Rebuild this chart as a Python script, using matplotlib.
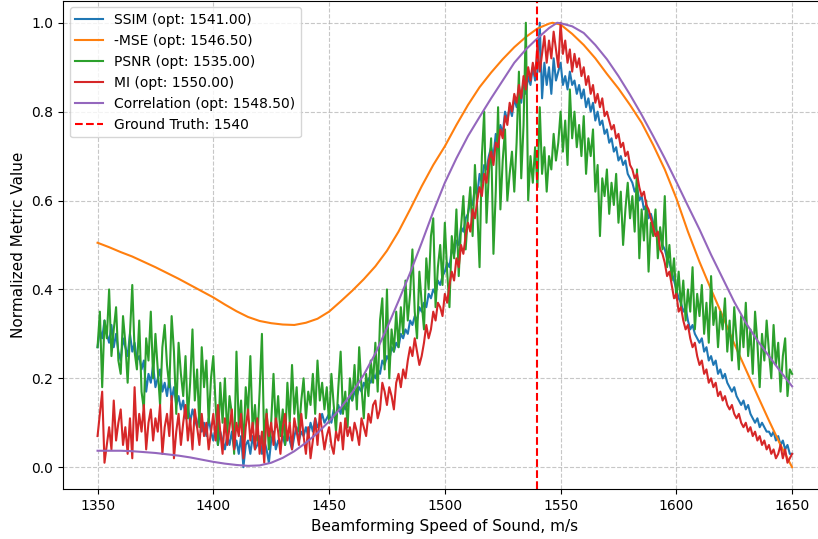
""" speed of sound sweep: normalized metric curves """

# imports
import numpy as np
import matplotlib
matplotlib.use('Agg')
import matplotlib.pyplot as plt


# swept speed of sound for the image metrics, m/s
sos = np.arange(1350, 1651, 1)

# SSIM per speed of sound (normalized)
ssim = [
    0.27, 0.31, 0.29, 0.33, 0.30, 0.28, 0.32, 0.27, 0.30, 0.26,
    0.24, 0.29, 0.27, 0.25, 0.30, 0.26, 0.28, 0.24, 0.25, 0.22,
    0.24, 0.17, 0.21, 0.19, 0.23, 0.18, 0.20, 0.22, 0.17, 0.19,
    0.16, 0.20, 0.15, 0.18, 0.14, 0.16, 0.13, 0.15, 0.11, 0.14,
    0.10, 0.13, 0.11, 0.09, 0.12, 0.08, 0.10, 0.07, 0.11, 0.08,
    0.06, 0.09, 0.05, 0.08, 0.06, 0.04, 0.07, 0.05, 0.08, 0.04,
    0.06, 0.03, 0.07, 0.00, 0.05, 0.06, 0.03, 0.07, 0.04, 0.05,
    0.07, 0.03, 0.06, 0.04, 0.01, 0.06, 0.08, 0.04, 0.06, 0.05,
    0.07, 0.05, 0.08, 0.06, 0.04, 0.07, 0.09, 0.06, 0.08, 0.07,
    0.09, 0.07, 0.10, 0.08, 0.11, 0.09, 0.10, 0.12, 0.10, 0.11,
    0.12, 0.10, 0.13, 0.11, 0.14, 0.12, 0.15, 0.13, 0.14, 0.16,
    0.15, 0.17, 0.16, 0.18, 0.17, 0.19, 0.18, 0.20, 0.19, 0.21,
    0.20, 0.22, 0.21, 0.24, 0.23, 0.25, 0.24, 0.27, 0.26, 0.28,
    0.27, 0.30, 0.29, 0.31, 0.30, 0.33, 0.32, 0.34, 0.33, 0.36,
    0.35, 0.37, 0.36, 0.39, 0.38, 0.40, 0.39, 0.42, 0.41, 0.43,
    0.44, 0.46, 0.45, 0.49, 0.48, 0.51, 0.50, 0.54, 0.53, 0.56,
    0.57, 0.60, 0.59, 0.63, 0.61, 0.66, 0.64, 0.68, 0.67, 0.70,
    0.72, 0.70, 0.75, 0.73, 0.77, 0.75, 0.80, 0.78, 0.81, 0.79,
    0.83, 0.81, 0.85, 0.82, 0.87, 0.84, 0.88, 0.86, 0.90, 0.87,
    0.89, 1.00, 0.83, 0.91, 0.86, 0.90, 0.84, 0.92, 0.87, 0.89,
    0.91, 0.86, 0.88, 0.85, 0.89, 0.86, 0.87, 0.84, 0.86, 0.83,
    0.85, 0.81, 0.83, 0.80, 0.82, 0.78, 0.80, 0.77, 0.78, 0.75,
    0.76, 0.73, 0.74, 0.71, 0.72, 0.69, 0.70, 0.68, 0.69, 0.66,
    0.65, 0.64, 0.62, 0.63, 0.60, 0.61, 0.58, 0.59, 0.56, 0.57,
    0.55, 0.54, 0.52, 0.53, 0.50, 0.49, 0.47, 0.46, 0.44, 0.42,
    0.40, 0.38, 0.37, 0.35, 0.36, 0.33, 0.31, 0.32, 0.30, 0.29,
    0.28, 0.29, 0.26, 0.27, 0.24, 0.25, 0.23, 0.24, 0.21, 0.22,
    0.20, 0.21, 0.19, 0.18, 0.17, 0.18, 0.16, 0.15, 0.14, 0.15,
    0.13, 0.14, 0.12, 0.11, 0.10, 0.11, 0.09, 0.10, 0.09, 0.08,
    0.08, 0.07, 0.08, 0.06, 0.07, 0.05, 0.06, 0.04, 0.05, 0.03,
    0.03,
]

# PSNR per speed of sound (normalized)
psnr = [
    0.27, 0.35, 0.18, 0.33, 0.29, 0.40, 0.25, 0.31, 0.36, 0.24,
    0.21, 0.34, 0.28, 0.19, 0.30, 0.41, 0.26, 0.22, 0.33, 0.17,
    0.13, 0.29, 0.24, 0.35, 0.20, 0.30, 0.22, 0.14, 0.27, 0.32,
    0.23, 0.18, 0.34, 0.26, 0.12, 0.28, 0.21, 0.16, 0.25, 0.11,
    0.19, 0.31, 0.15, 0.22, 0.09, 0.27, 0.18, 0.24, 0.10, 0.20,
    0.25, 0.14, 0.05, 0.19, 0.10, 0.20, 0.07, 0.16, 0.12, 0.03,
    0.26, 0.09, 0.15, 0.04, 0.18, 0.12, 0.25, 0.08, 0.14, 0.06,
    0.17, 0.30, 0.05, 0.13, 0.04, 0.10, 0.21, 0.09, 0.16, 0.07,
    0.13, 0.05, 0.19, 0.10, 0.23, 0.12, 0.18, 0.08, 0.15, 0.20,
    0.11, 0.17, 0.14, 0.21, 0.12, 0.24, 0.15, 0.19, 0.13, 0.18,
    0.10, 0.21, 0.14, 0.08, 0.18, 0.26, 0.12, 0.17, 0.09, 0.20,
    0.15, 0.23, 0.13, 0.27, 0.18, 0.11, 0.21, 0.16, 0.24, 0.19,
    0.28, 0.17, 0.33, 0.38, 0.22, 0.40, 0.20, 0.31, 0.26, 0.35,
    0.27, 0.36, 0.30, 0.42, 0.33, 0.39, 0.49, 0.35, 0.29, 0.44,
    0.37, 0.31, 0.47, 0.40, 0.52, 0.56, 0.36, 0.45, 0.50, 0.41,
    0.55, 0.44, 0.36, 0.52, 0.47, 0.58, 0.43, 0.54, 0.61, 0.49,
    0.57, 0.63, 0.52, 0.68, 0.58, 0.45, 0.70, 0.80, 0.55, 0.66,
    0.74, 0.48, 0.62, 0.81, 0.58, 0.69, 0.76, 0.60, 0.66, 0.71,
    0.62, 0.73, 0.89, 0.65, 0.77, 1.00, 0.60, 0.70, 0.64, 0.72,
    0.63, 0.81, 0.66, 0.72, 0.62, 0.70, 0.67, 0.75, 0.69, 0.73,
    0.80, 0.71, 0.78, 0.68, 0.85, 0.74, 0.80, 0.72, 0.77, 0.70,
    0.79, 0.66, 0.74, 0.70, 0.76, 0.62, 0.68, 0.52, 0.65, 0.61,
    0.67, 0.57, 0.64, 0.59, 0.66, 0.55, 0.62, 0.50, 0.58, 0.64,
    0.56, 0.61, 0.53, 0.67, 0.47, 0.58, 0.51, 0.60, 0.44, 0.55,
    0.52, 0.58, 0.47, 0.54, 0.49, 0.61, 0.45, 0.50, 0.42, 0.47,
    0.38, 0.44, 0.36, 0.42, 0.33, 0.40, 0.35, 0.45, 0.31, 0.39,
    0.34, 0.41, 0.30, 0.37, 0.28, 0.43, 0.32, 0.36, 0.27, 0.35,
    0.31, 0.38, 0.26, 0.33, 0.24, 0.36, 0.29, 0.22, 0.34, 0.27,
    0.37, 0.25, 0.31, 0.21, 0.35, 0.28, 0.18, 0.30, 0.24, 0.33,
    0.26, 0.20, 0.32, 0.23, 0.28, 0.17, 0.25, 0.29, 0.16, 0.22,
    0.21,
]

# mutual information per speed of sound (normalized)
mi = [
    0.07, 0.12, 0.17, 0.01, 0.05, 0.09, 0.04, 0.15, 0.06, 0.10,
    0.13, 0.05, 0.09, 0.03, 0.11, 0.02, 0.18, 0.06, 0.12, 0.08,
    0.14, 0.04, 0.10, 0.13, 0.06, 0.11, 0.08, 0.14, 0.03, 0.09,
    0.12, 0.07, 0.16, 0.02, 0.08, 0.12, 0.05, 0.10, 0.14, 0.06,
    0.11, 0.04, 0.13, 0.09, 0.05, 0.12, 0.07, 0.10, 0.04, 0.08,
    0.12, 0.06, 0.14, 0.08, 0.03, 0.11, 0.05, 0.09, 0.13, 0.04,
    0.10, 0.07, 0.12, 0.02, 0.09, 0.13, 0.06, 0.10, 0.04, 0.11,
    0.03, 0.08, 0.01, 0.12, 0.07, 0.10, 0.05, 0.11, 0.08, 0.03,
    0.09, 0.12, 0.06, 0.10, 0.04, 0.11, 0.08, 0.05, 0.12, 0.07,
    0.03, 0.09, 0.02, 0.06, 0.11, 0.05, 0.12, 0.08, 0.04, 0.07,
    0.09, 0.05, 0.03, 0.08, 0.06, 0.10, 0.04, 0.11, 0.07, 0.09,
    0.06, 0.10, 0.08, 0.05, 0.11, 0.09, 0.07, 0.12, 0.10, 0.14,
    0.15, 0.11, 0.13, 0.19, 0.17, 0.14, 0.18, 0.16, 0.13, 0.19,
    0.21, 0.18, 0.22, 0.20, 0.24, 0.27, 0.25, 0.29, 0.26, 0.23,
    0.25, 0.28, 0.32, 0.29, 0.31, 0.35, 0.33, 0.37, 0.36, 0.34,
    0.39, 0.37, 0.41, 0.44, 0.42, 0.47, 0.45, 0.50, 0.48, 0.52,
    0.55, 0.53, 0.58, 0.56, 0.60, 0.63, 0.61, 0.66, 0.64, 0.69,
    0.71, 0.68, 0.73, 0.72, 0.76, 0.74, 0.79, 0.77, 0.82, 0.80,
    0.84, 0.82, 0.86, 0.83, 0.88, 0.85, 0.90, 0.87, 0.91, 0.88,
    0.95, 0.89, 0.93, 0.97, 0.91, 0.96, 0.92, 0.98, 0.94, 0.90,
    1.00, 0.93, 0.96, 0.91, 0.94, 0.89, 0.93, 0.90, 0.92, 0.88,
    0.90, 0.86, 0.88, 0.84, 0.86, 0.82, 0.84, 0.81, 0.83, 0.79,
    0.80, 0.78, 0.76, 0.77, 0.74, 0.75, 0.72, 0.73, 0.70, 0.71,
    0.68, 0.67, 0.65, 0.66, 0.63, 0.61, 0.62, 0.59, 0.58, 0.56,
    0.54, 0.52, 0.53, 0.49, 0.48, 0.46, 0.43, 0.44, 0.41, 0.38,
    0.39, 0.35, 0.36, 0.33, 0.31, 0.32, 0.29, 0.27, 0.28, 0.25,
    0.23, 0.24, 0.21, 0.22, 0.19, 0.20, 0.18, 0.19, 0.16, 0.17,
    0.15, 0.16, 0.14, 0.13, 0.14, 0.12, 0.11, 0.12, 0.10, 0.09,
    0.10, 0.08, 0.09, 0.07, 0.08, 0.06, 0.07, 0.05, 0.06, 0.04,
    0.05, 0.03, 0.04, 0.02, 0.03, 0.05, 0.02, 0.04, 0.01, 0.02,
    0.03,
]

# -MSE, sampled coarser since it is smooth
mse_sos = [
    1350, 1355, 1360, 1365, 1370, 1375, 1380, 1385, 1390, 1395,
    1400, 1405, 1410, 1415, 1420, 1425, 1430, 1435, 1440, 1445,
    1450, 1455, 1460, 1465, 1470, 1475, 1480, 1485, 1490, 1495,
    1500, 1505, 1510, 1515, 1520, 1525, 1530, 1535, 1540, 1545,
    1546.5, 1550, 1555, 1560, 1565, 1570, 1575, 1580, 1585, 1590,
    1595, 1600, 1605, 1610, 1615, 1620, 1625, 1630, 1635, 1640,
    1645, 1650,
]
mse = [
    0.505, 0.495, 0.484, 0.474, 0.462, 0.450, 0.437, 0.424, 0.410, 0.396,
    0.382, 0.366, 0.351, 0.338, 0.329, 0.324, 0.321, 0.320, 0.325, 0.334,
    0.350, 0.373, 0.397, 0.423, 0.452, 0.487, 0.530, 0.580, 0.632, 0.680,
    0.722, 0.770, 0.815, 0.855, 0.888, 0.918, 0.945, 0.968, 0.987, 0.998,
    1.000, 0.996, 0.975, 0.950, 0.920, 0.885, 0.852, 0.815, 0.775, 0.725,
    0.670, 0.605, 0.530, 0.462, 0.400, 0.340, 0.278, 0.220, 0.162, 0.105,
    0.050, 0.000,
]

# correlation, also smooth
corr_sos = [
    1350, 1355, 1360, 1365, 1370, 1375, 1380, 1385, 1390, 1395,
    1400, 1405, 1410, 1415, 1420, 1425, 1430, 1435, 1440, 1445,
    1450, 1455, 1460, 1465, 1470, 1475, 1480, 1485, 1490, 1495,
    1500, 1505, 1510, 1515, 1520, 1525, 1530, 1535, 1540, 1545,
    1548.5, 1550, 1555, 1560, 1565, 1570, 1575, 1580, 1585, 1590,
    1595, 1600, 1605, 1610, 1615, 1620, 1625, 1630, 1635, 1640,
    1645, 1650,
]
corr = [
    0.037, 0.037, 0.037, 0.036, 0.034, 0.032, 0.029, 0.026, 0.022, 0.017,
    0.012, 0.008, 0.005, 0.003, 0.004, 0.010, 0.021, 0.036, 0.055, 0.077,
    0.103, 0.133, 0.168, 0.208, 0.256, 0.313, 0.374, 0.437, 0.505, 0.575,
    0.640, 0.695, 0.745, 0.788, 0.830, 0.870, 0.910, 0.940, 0.965, 0.988,
    1.000, 0.999, 0.992, 0.977, 0.950, 0.918, 0.880, 0.838, 0.793, 0.745,
    0.695, 0.642, 0.588, 0.535, 0.478, 0.425, 0.372, 0.325, 0.285, 0.250,
    0.215, 0.182,
]

# optimum speed of sound per metric and the true value
opt_ssim = 1541.0
opt_mse = 1546.5
opt_psnr = 1535.0
opt_mi = 1550.0
opt_corr = 1548.5
ground_truth = 1540


# plot starting settings
fig = plt.figure(figsize=(8.18, 5.39), dpi=100)
ax = fig.add_axes([0.0768, 0.092, 0.934, 0.907])

# metric curves
ax.plot(sos, ssim, color='tab:blue', label=f'SSIM (opt: {opt_ssim:.2f})')
ax.plot(mse_sos, mse, color='tab:orange', label=f'-MSE (opt: {opt_mse:.2f})')
ax.plot(sos, psnr, color='tab:green', label=f'PSNR (opt: {opt_psnr:.2f})')
ax.plot(sos, mi, color='tab:red', label=f'MI (opt: {opt_mi:.2f})')
ax.plot(corr_sos, corr, color='tab:purple', label=f'Correlation (opt: {opt_corr:.2f})')

# ground truth marker
ax.axvline(ground_truth, color='r', linestyle='--', linewidth=1.5, label=f'Ground Truth: {ground_truth}')

# axes
ax.set_xlim(1335, 1665)
ax.set_ylim(-0.05, 1.05)
ax.set_xlabel('Beamforming Speed of Sound, m/s', fontsize=11)
ax.set_ylabel('Normalized Metric Value', fontsize=11)
ax.grid(True, linestyle='--', alpha=0.7)
ax.legend(loc='upper left', fontsize=10)

# save plot
fig.savefig('out.png', dpi=100)
